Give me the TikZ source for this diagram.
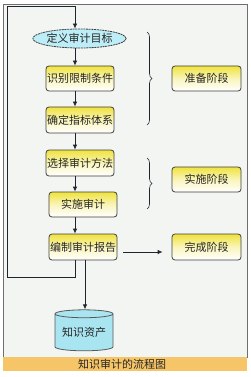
\documentclass[tikz,border=0pt]{standalone}
\usepackage{fontspec}
\newfontfamily\cjk{Noto Sans CJK SC}
\usetikzlibrary{shapes.geometric,arrows.meta,decorations.pathreplacing}
\definecolor{bgc}{HTML}{F3F5F2}
\definecolor{framec}{HTML}{6E6E6E}
\definecolor{boxy}{HTML}{EFE23C}
\definecolor{cyanA}{HTML}{BDEEF7}
\definecolor{cyanB}{HTML}{A9E5F1}
\definecolor{capc}{HTML}{F6C567}
\definecolor{linec}{HTML}{1E2430}
\tikzset{
  stepbox/.style={draw=black!75, line width=0.8pt, rounded corners=3pt,
    top color=boxy, bottom color=white, middle color=boxy!35,
    minimum width=68pt, minimum height=25pt, inner sep=0pt,
    font=\cjk\fontsize{11pt}{13pt}\selectfont, text=black!85},
  goal/.style={ellipse, draw=black!75, line width=0.8pt, dash pattern=on 2pt off 0.7pt,
    fill=cyanA, minimum width=89pt, minimum height=19pt, inner sep=0pt,
    font=\cjk\fontsize{11pt}{13pt}\selectfont, text=black!85},
  store/.style={cylinder, shape border rotate=90, aspect=0.18, draw=black!65,
    line width=0.8pt, fill=cyanB, minimum width=58pt, minimum height=41pt,
    inner sep=0pt, font=\cjk\fontsize{11pt}{13pt}\selectfont, text=black!85},
  arr/.style={draw=linec, line width=0.8pt, -{Latex[length=5pt,width=4.5pt]}},
  brc/.style={draw=linec, line width=0.6pt, decorate,
    decoration={brace, amplitude=5pt}},
}
\begin{document}
\begin{tikzpicture}[x=1pt,y=-1pt]
\useasboundingbox (0,0) rectangle (250,377);
\fill[white] (0,0) rectangle (250,377);
\fill[bgc] (3,4) rectangle (247,357);
\draw[framec, line width=0.8pt] (3,4) rectangle (247,357);
\fill[capc] (3,357.4) rectangle (247,371);
\node[font=\cjk\fontsize{11pt}{13pt}\selectfont, text=black!85] (cap) at (122,364.5) {知识审计的流程图};

\coordinate (ax) at (75,0);
\coordinate (cx) at (85,0);
\coordinate (lb) at (7,277);
\coordinate (lt) at (7,6);

\node[goal] (e) at (79.5,38.5) {定义审计目标};
\node[stepbox] (b1) at (80,78.5) {识别限制条件};
\node[stepbox, minimum height=26pt] (b2) at (80,120) {确定指标体系};
\node[stepbox, minimum height=26pt] (b3) at (80,163) {选择审计方法};
\node[stepbox] (b4) at (83,204.5) {实施审计};
\node[stepbox, minimum height=26pt] (b5) at (83,247) {编制审计报告};
\node[stepbox, minimum width=69pt] (p1) at (206.5,78.5) {准备阶段};
\node[stepbox, minimum width=69pt] (p2) at (206.5,179.5) {实施阶段};
\node[stepbox, minimum width=69pt, minimum height=26pt] (p3) at (206.5,247) {完成阶段};
\node[store] (cyl) at (84,332.5) {知识资产};

\draw[arr] (e.south -| ax) -- (b1.north -| ax);
\draw[arr] (b1.south -| ax) -- (b2.north -| ax);
\draw[arr] (b2.south -| ax) -- (b3.north -| ax);
\draw[arr] (b3.south -| ax) -- (b4.north -| ax);
\draw[arr] (b4.south -| ax) -- (b5.north -| ax);
\draw[arr] (b5.south -| ax) |- (lb) -- (lt) -| (e.north -| ax);
\draw[arr] (b5.south -| cx) -- (cyl.north -| cx);
\draw[arr] ([xshift=6pt,yshift=-5pt]b5.east) -- ([xshift=-9pt,yshift=-5pt]p3.west);

\draw[brc] (147,32) -- (147,125);
\draw[brc] (147,158) -- (147,209);
\end{tikzpicture}
\end{document}
